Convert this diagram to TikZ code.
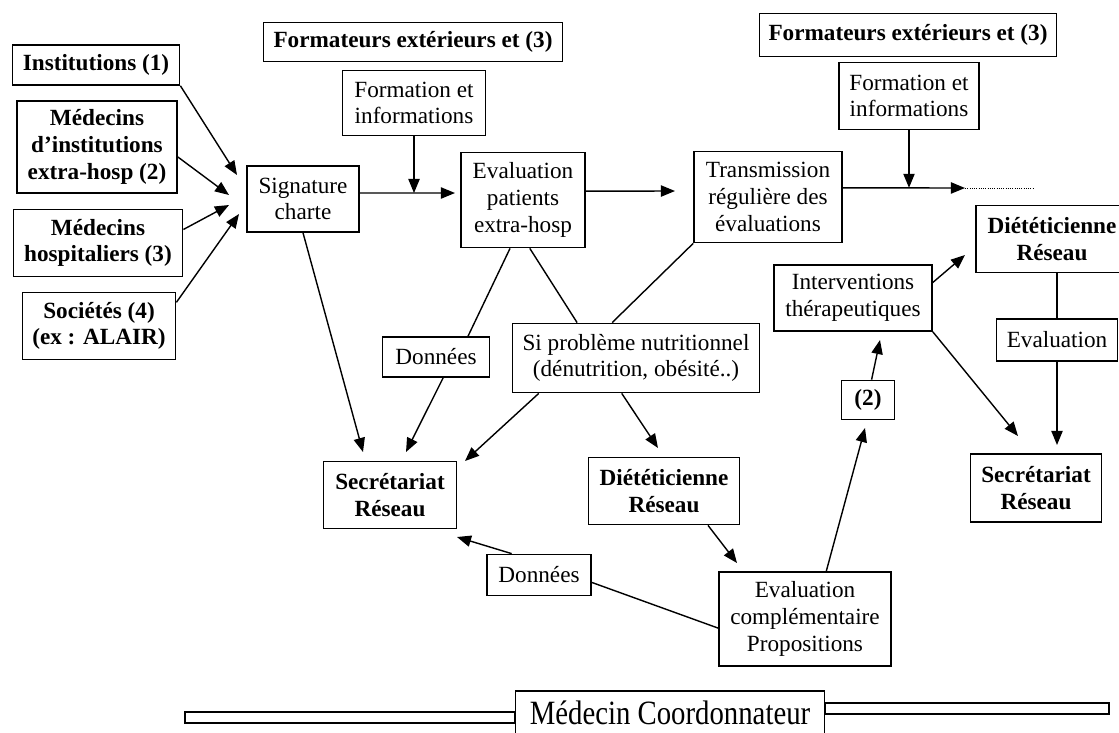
\documentclass[tikz,border=0pt]{standalone}
\usepackage{fontspec}
\setmainfont{Liberation Serif}
\usepackage{tikz}
\usetikzlibrary{arrows.meta}

\tikzset{
  box/.style={draw, line width=1.1pt, align=center, inner sep=2pt,
    font=\fontsize{16.5}{19}\selectfont},
  bbox/.style={box, font=\fontsize{16.5}{19}\selectfont\bfseries},
  link/.style={line width=1pt},
}

\begin{document}
\begin{tikzpicture}[x=0.025cm, y=-0.025cm, >={Triangle[length=10pt,width=8pt]}]
        \useasboundingbox (0,0) rectangle (1119,732);

        % partenaires
        \node[bbox, minimum width=4.18cm, minimum height=1.0cm] (inst) at (96,65) {Institutions (1)};
        \node[bbox, minimum width=4.0cm, minimum height=2.3cm] (medinst) at (97,147) {Médecins\\d’institutions\\extra-hosp (2)};
        \node[bbox, minimum width=4.23cm, minimum height=1.68cm] (medhosp) at (98,243) {Médecins\\hospitaliers (3)};
        \node[bbox, minimum width=3.83cm, minimum height=1.68cm] (soc) at (99,326) {Sociétés (4)\\(ex : ALAIR)};

        \node[box, minimum width=2.8cm, minimum height=1.65cm] (sign) at (303,199) {Signature\\charte};

        \coordinate (s1) at (237,175);
        \coordinate (s2) at (229,195);
        \coordinate (s3) at (229,205);
        \coordinate (s4) at (239,214);
        \draw[link, ->] (inst.south east) -- (s1);
        \draw[link, ->] (medinst.-7) -- (s2);
        \draw[link, ->] (medhosp.9) -- (s3);
        \draw[link, ->] (soc.17) -- (s4);

        % formation
        \node[bbox, minimum width=7.48cm, minimum height=0.98cm] (formA) at (413,42) {Formateurs extérieurs et (3)};
        \node[box, minimum width=3.58cm, minimum height=1.63cm] (infoA) at (414,103) {Formation et\\informations};
        \node[bbox, minimum width=7.43cm, minimum height=1.08cm] (formB) at (908,35) {Formateurs extérieurs et (3)};
        \node[box, minimum width=3.5cm, minimum height=1.68cm] (infoB) at (909,96) {Formation et\\informations};

        \node[box, minimum width=3.1cm, minimum height=2.38cm] (evalp) at (523,200) {Evaluation\\patients\\extra-hosp};
        \node[box, minimum width=3.7cm, minimum height=2.28cm] (trans) at (768,197) {Transmission\\régulière des\\évaluations};

        \coordinate (e1) at (455,193);
        \coordinate (e2) at (675,191);
        \coordinate (e3) at (965,188);
        \coordinate (e4) at (1033,188);
        \draw[link, ->] (sign.6) -- (e1);
        \draw[link, ->] (infoA.south) -- (infoA.south |- sign.6);
        \draw[link, ->] (evalp.8) -- (e2);
        \draw[link, ->] (trans.7) -- (e3);
        \draw[line width=0.6pt, densely dotted] (e3) -- (e4);
        \draw[link, ->] (infoB.south) -- (infoB.south |- trans.7);

        % suivi
        \node[box, minimum width=2.68cm, minimum height=1.0cm] (donA) at (436,357) {Données};
        \node[box, minimum width=6.18cm, minimum height=1.73cm] (sipb) at (636,358) {Si problème nutritionnel\\(dénutrition, obésité..)};
        \node[bbox, minimum width=3.33cm, minimum height=1.68cm] (secrA) at (390,495) {Secrétariat\\Réseau};
        \node[bbox, minimum width=3.78cm, minimum height=1.68cm] (dietA) at (664,491) {Diététicienne\\Réseau};
        \node[box, minimum width=2.6cm, minimum height=1.03cm] (donB) at (539,575) {Données};
        \node[box, minimum width=4.3cm, minimum height=2.35cm] (evalc) at (805,619) {Evaluation\\complémentaire\\Propositions};

        \draw[link] (evalp.-105) -- (donA.33);
        \draw[link] (evalp.-82) -- (sipb.149);
        \draw[link] (trans.south west) -- (sipb.124);

        \coordinate (r1) at (363,452);
        \coordinate (r2) at (406,452);
        \coordinate (r3) at (465,461);
        \coordinate (r4) at (457,537);
        \coordinate (d1) at (658,448);
        \coordinate (d2) at (737,563);
        \draw[link, ->] (sign.south) -- (r1);
        \draw[link, ->] (donA.-71) -- (r2);
        \draw[link, ->] (sipb.-160) -- (r3);
        \draw[link, ->] (sipb.-112) -- (d1);
        \draw[link, ->] (dietA.-38) -- (d2);
        \draw[link, ->] (donB.142) -- (r4);
        \draw[link] (donB.-8) -- (evalc.186);

        % interventions
        \node[bbox, minimum width=1.33cm, minimum height=0.98cm] (num) at (868,400) {(2)};
        \node[box, minimum width=3.95cm, minimum height=1.65cm] (interv) at (853,298) {Interventions\\thérapeutiques};
        \node[bbox, minimum width=3.8cm, minimum height=1.68cm] (dietB) at (1052,239) {Diététicienne\\Réseau};
        \node[box, minimum width=3.03cm, minimum height=1.05cm] (evalr) at (1057,340) {Evaluation};
        \node[bbox, minimum width=3.28cm, minimum height=1.7cm] (secrB) at (1036,488) {Secrétariat\\Réseau};

        \coordinate (i1) at (865,428);
        \coordinate (i2) at (880,340);
        \coordinate (i3) at (965,255);
        \coordinate (i4) at (1018,436);
        \coordinate (i5) at (1057,445);
        \draw[link, ->] (evalc.66) -- (i1);
        \draw[link, ->] (num.80) -- (i2);
        \draw[link, ->] (interv.11) -- (i3);
        \draw[link, ->] (interv.south east) -- (i4);
        \draw[link] (evalr.north |- dietB.south) -- (evalr.north);
        \draw[link, ->] (evalr.south) -- (i5);

        % coordination
        \node[draw, line width=1.1pt, anchor=north, inner ysep=0pt, minimum width=7.73cm,
          text height=0.85cm, text depth=1cm, font=\fontsize{22}{26}\selectfont] (coord) at (670,690)
          {\scalebox{0.93}[1.1]{Médecin Coordonnateur}};
        \draw[line width=0.9pt] (185,712) rectangle (coord.west |- 0,723);
        \draw[line width=0.9pt] (coord.east |- 0,703) rectangle (1109,714);
      \end{tikzpicture}
\end{document}
